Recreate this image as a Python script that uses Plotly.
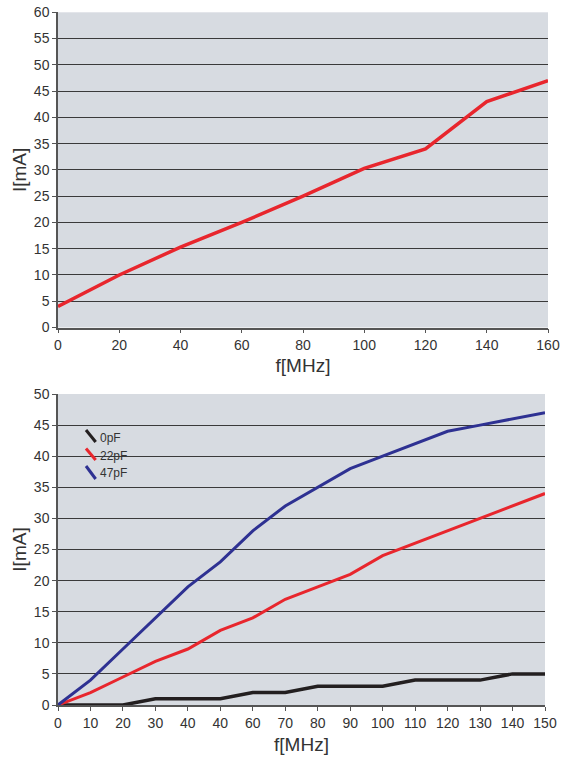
import plotly.graph_objects as go

# ---- data: top chart ----
f_top = [0, 20, 40, 60, 80, 100, 120, 140, 160]
i_top = [4, 10, 15.3, 20, 25, 30.3, 34, 43, 47]

# ---- data: bottom chart ----
f_bot = [0, 10, 20, 30, 40, 50, 60, 70, 80, 90, 100, 110, 120, 130, 140, 150]
i_0pF = [0, 0, 0, 1, 1, 1, 2, 2, 3, 3, 3, 4, 4, 4, 5, 5]
i_22pF = [0, 2, 4.5, 7, 9, 12, 14, 17, 19, 21, 24, 26, 28, 30, 32, 34]
i_47pF = [0, 4, 9, 14, 19, 23, 28, 32, 35, 38, 40, 42, 44, 45, 46, 47]
series_names = ["0pF", "22pF", "47pF"]
bot_xtick_vals = [0, 10, 20, 30, 40, 50, 60, 70, 80, 90, 100, 110, 120, 130, 140, 150]
bot_xtick_text = ["0", "10", "20", "30", "40", "40", "60", "70", "80", "90",
                  "100", "110", "120", "130", "140", "150"]

W, H = 567, 760
RED = "#e8262d"
BLUE = "#2e3192"
BLACK = "#231f20"
BG = "#d7dbe1"
FONT = "Liberation Sans, Arial, sans-serif"

def px_x(p):
    return p / W

def px_y(p):
    return 1 - p / H

fig = go.Figure()
fig.add_trace(go.Scatter(x=f_top, y=i_top, mode="lines", line=dict(color=RED, width=3.5),
                         xaxis="x", yaxis="y", showlegend=False))
colors = [BLACK, RED, BLUE]
for name, ys, c in zip(series_names, [i_0pF, i_22pF, i_47pF], colors):
    fig.add_trace(go.Scatter(x=f_bot, y=ys, mode="lines", name=name,
                             line=dict(color=c, width=3 if c != BLACK else 3.5),
                             xaxis="x2", yaxis="y2", showlegend=False))

axis_common = dict(showline=True, linecolor="#555555", linewidth=1.5, ticks="outside",
                   ticklen=4, tickcolor="#555555", tickwidth=1, zeroline=False,
                   tickfont=dict(family=FONT, size=14, color="#333333"),
                   automargin=False)
title_font = dict(size=19, family=FONT, color="#333333")

fig.update_layout(
    width=W, height=H, autosize=False,
    margin=dict(l=0, r=0, t=0, b=0),
    paper_bgcolor="white", plot_bgcolor=BG,
    font=dict(family=FONT, color="#333333"),
    xaxis=dict(domain=[px_x(58), px_x(548)], anchor="y", range=[0, 160],
               tickvals=[0, 20, 40, 60, 80, 100, 120, 140, 160], showgrid=False,
               title=dict(text="f[MHz]", font=title_font, standoff=7),
               **axis_common),
    yaxis=dict(domain=[px_y(327.5), px_y(12.3)], anchor="x", range=[0, 60],
               tickvals=list(range(0, 61, 5)), showgrid=True, gridcolor="#3a3a3a", gridwidth=1,
               title=dict(text="I[mA]", font=title_font, standoff=2),
               **axis_common),
    xaxis2=dict(domain=[px_x(58), px_x(545)], anchor="y2", range=[0, 150],
                tickvals=bot_xtick_vals, ticktext=bot_xtick_text, showgrid=False,
                title=dict(text="f[MHz]", font=title_font, standoff=8),
                **axis_common),
    yaxis2=dict(domain=[px_y(705), px_y(394)], anchor="x2", range=[0, 50],
                tickvals=list(range(0, 51, 5)), showgrid=True, gridcolor="#3a3a3a", gridwidth=1,
                title=dict(text="I[mA]", font=title_font, standoff=2),
                **axis_common),
)

# custom legend with slanted line symbols
leg_rows = [(430, 442, 437.5), (448.5, 460, 456.5), (466, 479, 473)]
for name, c, (y0, y1, yt) in zip(series_names, colors, leg_rows):
    fig.add_shape(type="line", xref="paper", yref="paper",
                  x0=px_x(86), y0=px_y(y0), x1=px_x(95.7), y1=px_y(y1),
                  line=dict(color=c, width=3))
    fig.add_annotation(xref="paper", yref="paper", x=px_x(97.5), y=px_y(yt),
                       text=name, showarrow=False, xanchor="left", yanchor="middle",
                       font=dict(family="Liberation Sans Narrow, " + FONT, size=12, color="#333333"))

fig.write_html("out.html", config={"displayModeBar": False},
               post_script="document.body.style.margin='0';document.body.style.overflow='hidden';")
